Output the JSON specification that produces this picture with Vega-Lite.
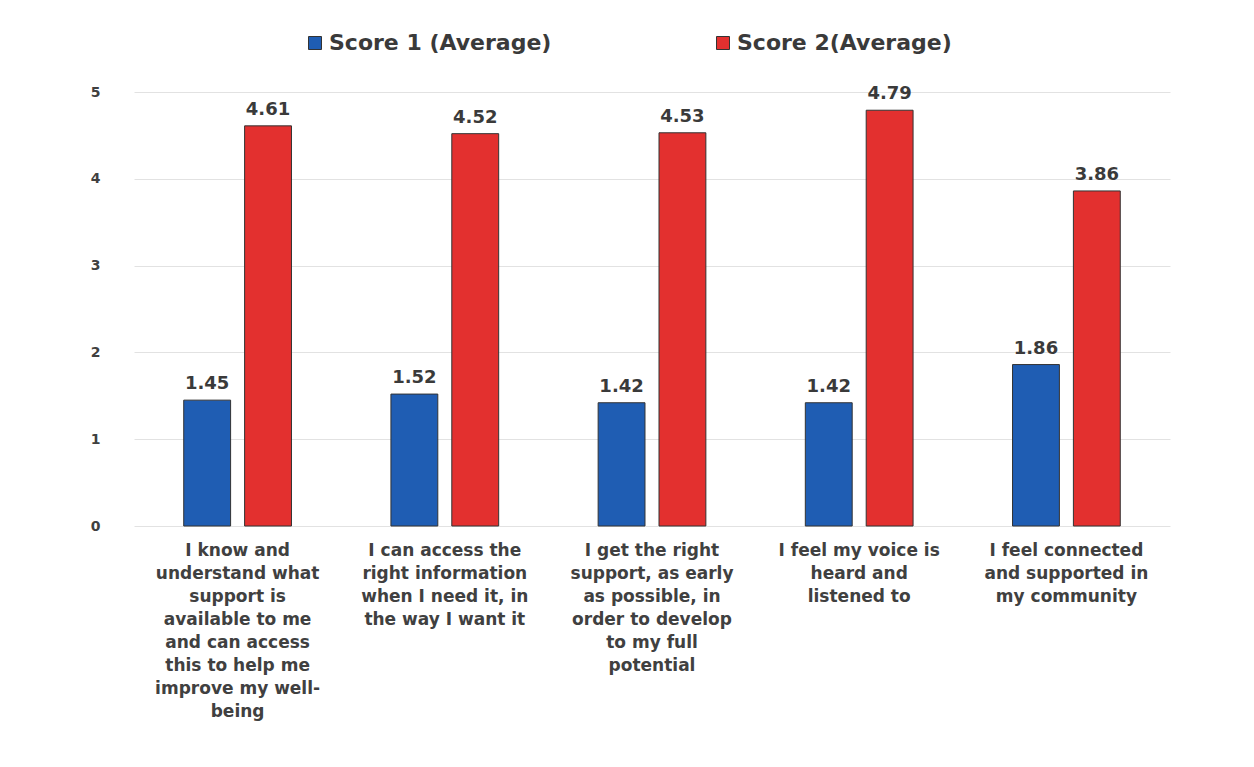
{
  "$schema": "https://vega.github.io/schema/vega-lite/v6.json",
  "width": 1036,
  "height": 434,
  "autosize": {"type": "none"},
  "padding": {"left": 134, "top": 92, "right": 84, "bottom": 241},
  "background": "#ffffff",
  "data": {
    "values": [
      {"statement": "I know and|understand what|support is|available to me|and can access|this to help me|improve my well-|being", "series": "Score 1 (Average)", "value": 1.45},
      {"statement": "I know and|understand what|support is|available to me|and can access|this to help me|improve my well-|being", "series": "Score 2(Average)", "value": 4.61},
      {"statement": "I can access the|right information|when I need it, in|the way I want it", "series": "Score 1 (Average)", "value": 1.52},
      {"statement": "I can access the|right information|when I need it, in|the way I want it", "series": "Score 2(Average)", "value": 4.52},
      {"statement": "I get the right|support, as early|as possible, in|order to develop|to my full|potential", "series": "Score 1 (Average)", "value": 1.42},
      {"statement": "I get the right|support, as early|as possible, in|order to develop|to my full|potential", "series": "Score 2(Average)", "value": 4.53},
      {"statement": "I feel my voice is|heard and|listened to", "series": "Score 1 (Average)", "value": 1.42},
      {"statement": "I feel my voice is|heard and|listened to", "series": "Score 2(Average)", "value": 4.79},
      {"statement": "I feel connected|and supported in|my community", "series": "Score 1 (Average)", "value": 1.86},
      {"statement": "I feel connected|and supported in|my community", "series": "Score 2(Average)", "value": 3.86}
    ]
  },
  "encoding": {
    "x": {
      "field": "statement",
      "type": "nominal",
      "sort": null,
      "scale": {"paddingInner": 0.48, "paddingOuter": 0.24},
      "axis": {
        "title": null,
        "labelAngle": 0,
        "labelExpr": "split(datum.label, '|')",
        "labelFont": "DejaVu Sans",
        "labelFontWeight": "bold",
        "labelFontSize": 17,
        "labelLineHeight": 23,
        "labelColor": "#404040",
        "labelPadding": 16,
        "labelLimit": 0,
        "ticks": false,
        "domain": false,
        "grid": false
      }
    },
    "xOffset": {
      "field": "series",
      "type": "nominal",
      "scale": {"paddingInner": 0.23, "paddingOuter": 0}
    },
    "y": {
      "field": "value",
      "type": "quantitative",
      "scale": {"domain": [0, 5], "nice": false},
      "axis": {
        "title": null,
        "values": [0, 1, 2, 3, 4, 5],
        "labelFont": "DejaVu Sans",
        "labelFontWeight": "bold",
        "labelFontSize": 14,
        "labelColor": "#404040",
        "labelPadding": 34,
        "ticks": false,
        "domain": false,
        "grid": true,
        "gridColor": "#e2e2e2",
        "gridWidth": 1
      }
    }
  },
  "layer": [
    {
      "mark": {"type": "bar", "stroke": "#333333", "strokeWidth": 1},
      "encoding": {
        "color": {
          "field": "series",
          "type": "nominal",
          "scale": {"domain": ["Score 1 (Average)", "Score 2(Average)"], "range": ["#1f5db3", "#e3302f"]},
          "legend": {
            "title": null,
            "orient": "none",
            "direction": "horizontal",
            "legendX": 170,
            "legendY": -60,
            "symbolType": "square",
            "symbolSize": 169,
            "symbolStrokeColor": "#333333",
            "symbolStrokeWidth": 1,
            "labelFont": "DejaVu Sans",
            "labelFontWeight": "bold",
            "labelFontSize": 22,
            "labelColor": "#3a3a3a",
            "labelOffset": 3,
            "labelLimit": 0,
            "columnPadding": 160
          }
        }
      }
    },
    {
      "mark": {
        "type": "text",
        "baseline": "alphabetic",
        "dy": -11,
        "font": "DejaVu Sans",
        "fontWeight": "bold",
        "fontSize": 18,
        "color": "#3a3a3a"
      },
      "encoding": {
        "text": {"field": "value", "type": "quantitative", "format": ".2f"}
      }
    }
  ],
  "config": {"view": {"stroke": null}}
}
